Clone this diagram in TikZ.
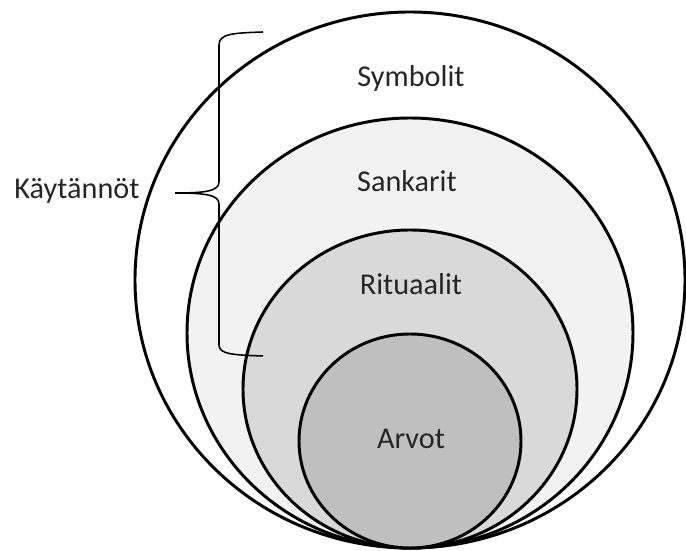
\documentclass[tikz,border=0pt]{standalone}
\usepackage{fontspec}
\setmainfont{Carlito}
\usepackage{xcolor}
\usepackage{tikz}
\usetikzlibrary{positioning}

\definecolor{ringA}{HTML}{FFFFFF}
\definecolor{ringB}{HTML}{F2F2F2}
\definecolor{ringC}{HTML}{D9D9D9}
\definecolor{ringD}{HTML}{BFBFBF}

\begin{document}
\begin{tikzpicture}[
  x=0.025cm,y=0.025cm,
  ring/.style={draw=black,line width=2.1pt},
  layer/.style={text=black!85,font=\fontsize{21.5}{26}\selectfont,anchor=base,inner sep=0pt},
  bracket/.style={draw=black,line width=1.1pt}
]
  \useasboundingbox (0,0) rectangle (686,551);

  \draw[ring,fill=ringA] (410,271) ellipse [x radius=275, y radius=268];
  \draw[ring,fill=ringB] (410,218) ellipse [x radius=223, y radius=215];
  \draw[ring,fill=ringC] (410,162) ellipse [x radius=167, y radius=159];
  \draw[ring,fill=ringD] (410,110) ellipse [x radius=111, y radius=107];

  \node[layer] (symbolit) at (411,464) {Symbolit};
  \node[layer] (sankarit) at (407,359) {Sankarit};
  \node[layer] (rituaalit) at (411,256) {Rituaalit};
  \node[layer] (arvot) at (411,102) {Arvot};
  \node[layer] (kaytannot) at (77,352) {Käytännöt};

  \coordinate (bracetop) at (263,519);
  \coordinate (bracetip) at (175,358);
  \coordinate (bracebot) at (263,195);

  \draw[bracket] (bracetop) .. controls (232,518) and (219,517) .. (219,506)
    -- (219,369) .. controls (219,360) and (206,358) .. (bracetip);
  \draw[bracket] (bracetip) .. controls (206,358) and (219,356) .. (219,347)
    -- (219,206) .. controls (219,197) and (232,196) .. (bracebot);
\end{tikzpicture}
\end{document}
